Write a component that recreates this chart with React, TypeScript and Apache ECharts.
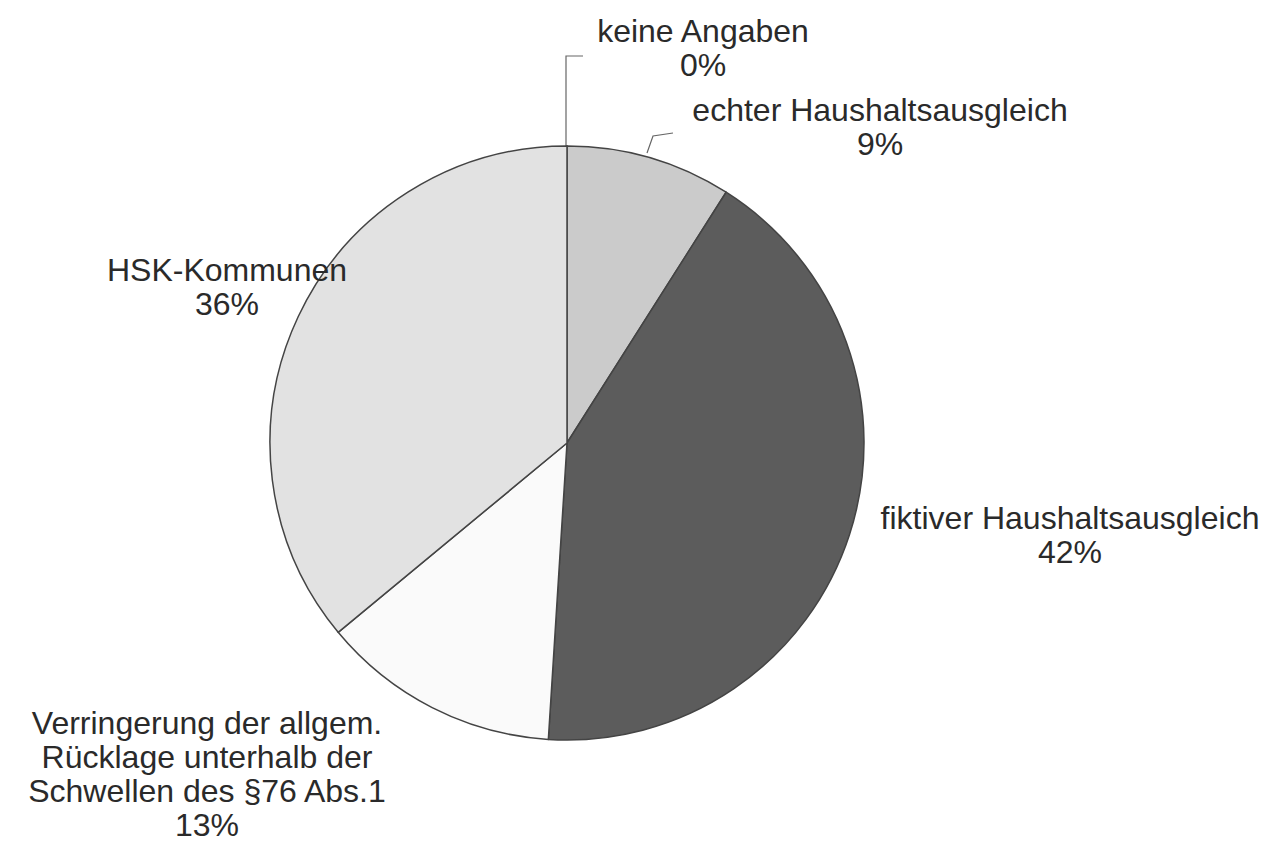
import React, { useEffect, useRef } from "react";
import * as echarts from "echarts";

const categories = [
  "keine Angaben",
  "echter Haushaltsausgleich",
  "fiktiver Haushaltsausgleich",
  "Verringerung der allgem.\nRücklage unterhalb der\nSchwellen des §76 Abs.1",
  "HSK-Kommunen",
];
const shares = [0, 9, 42, 13, 36];
const colors = ["#bdbdbd", "#cbcbcb", "#5c5c5c", "#fafafa", "#e2e2e2"];

// label anchor positions (pixels) for each slice's label block
const labelPos: { x: number; y: number; line?: number[][] }[] = [
  { x: 703, y: 48, line: [[566, 147], [566, 56], [583, 56]] },
  { x: 880, y: 127, line: [[647, 153], [653, 136], [673, 133]] },
  { x: 1070, y: 535 },
  { x: 207, y: 774 },
  { x: 227, y: 287 },
];

export default function App() {
  const ref = useRef<HTMLDivElement>(null);
  useEffect(() => {
    if (!ref.current) return;
    const chart = echarts.init(ref.current, undefined, { renderer: "svg" });
    chart.setOption({
      animation: false,
      backgroundColor: "#ffffff",
      series: [
        {
          type: "pie",
          center: [567, 443],
          radius: 297,
          startAngle: 90,
          clockwise: true,
          avoidLabelOverlap: false,
          stillShowZeroSum: true,
          minShowLabelAngle: 0,
          itemStyle: { borderColor: "#444444", borderWidth: 1.5 },
          label: {
            show: true,
            position: "outside",
            formatter: (p: any) => `${p.name}\n${p.value}%`,
            fontFamily: "Liberation Sans, Arial, sans-serif",
            fontSize: 32,
            lineHeight: 34,
            color: "#2a2a2a",
            align: "center",
          },
          labelLine: {
            show: true,
            lineStyle: { color: "#666666", width: 1.2 },
          },
          labelLayout: (params: any) => {
            const p = labelPos[params.dataIndex];
            const out: any = {
              x: p.x,
              y: p.y,
              align: "center",
              verticalAlign: "middle",
            };
            if (p.line) out.labelLinePoints = p.line;
            return out;
          },
          data: categories.map((name, i) => ({
            name,
            value: shares[i],
            itemStyle: { color: colors[i] },
            labelLine: { show: i < 2 },
          })),
        },
      ],
    });
    return () => chart.dispose();
  }, []);
  return (
    <div
      ref={ref}
      style={{ position: "fixed", left: 0, top: 0, width: 1284, height: 844 }}
    />
  );
}
